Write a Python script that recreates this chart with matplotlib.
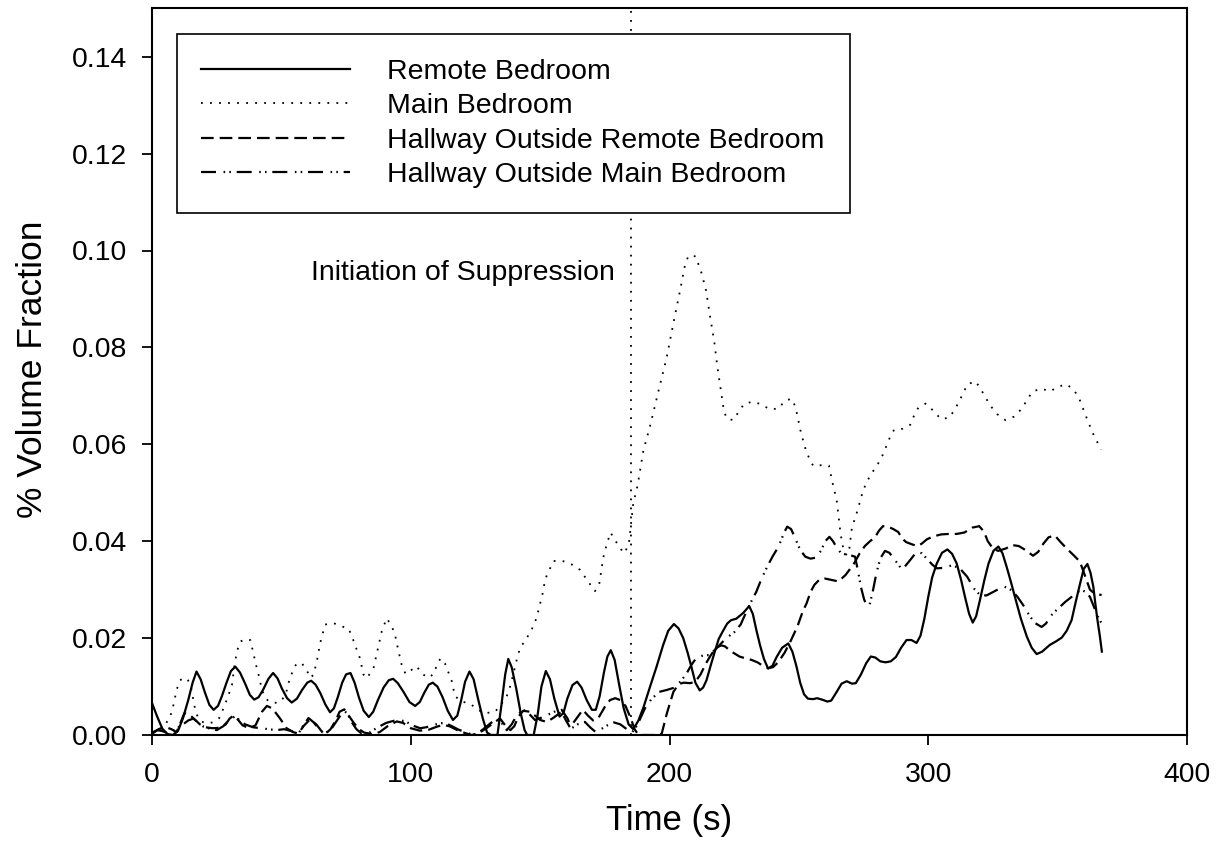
import numpy as np
import matplotlib
matplotlib.use("Agg")
import matplotlib.pyplot as plt

plt.rcParams['font.family'] = ['Liberation Sans', 'DejaVu Sans']

# ---------------- data (time s, % volume fraction) ----------------
remote_bedroom = [
    (0, .0066), (2, .0038), (4, .0013), (6, .0002), (8, .0), (10, .0008), (12, .0035), (14, .0072),
    (15.7, .0108), (17.2, .0131), (18.8, .0115), (20.5, .0087), (22.2, .0062), (23.8, .0052), (25.5, .0060),
    (27, .0080), (28.8, .0108), (30.5, .0132), (32.2, .0141), (34, .0129), (36, .0106), (37.8, .0083),
    (39.5, .0073), (41.2, .0078), (43, .0094), (45, .0116), (46.8, .0128), (48.5, .0117), (50.2, .0096),
    (52.2, .0076), (54, .0067), (56, .0075), (58, .0093), (60, .0108), (61.5, .0112), (63.2, .0104),
    (65, .0087), (67, .0063), (68.8, .0047), (70.3, .0055), (71.8, .0078), (73.5, .0108), (75, .0125),
    (76.7, .0128), (78.3, .0108), (80, .0077), (81.8, .0050), (83.8, .0037), (85.5, .0048), (87.3, .0072),
    (89.5, .0098), (91.5, .0113), (93.2, .0116), (95, .0107), (97.2, .0089), (99.5, .0068), (101.7, .0060),
    (103.5, .0068), (105.3, .0088), (107, .0104), (108.5, .0108), (110.3, .0100), (112.3, .0078),
    (114.3, .0050), (116.3, .0031), (118, .0040), (119.5, .0072), (121, .0110), (122.7, .0131),
    (124.3, .0115), (126, .0075), (127.8, .0035), (129.5, .0005), (131, .0), (133.5, .0), (135, .0060),
    (136.5, .0125), (137.7, .0157), (139, .0140), (140.8, .0095), (142.5, .0045), (144, .0010), (145, .0),
    (147.5, .0), (149, .0040), (150.5, .0100), (152.2, .0132), (153.8, .0115), (155.5, .0075),
    (157.5, .0038), (159, .0045), (160.5, .0075), (162.5, .0103), (164.3, .0110), (166, .0098),
    (168, .0072), (170, .0052), (171.5, .0052), (173, .0080), (174.7, .0130), (176, .0162), (177.3, .0175),
    (178.8, .0155), (180.5, .0105), (182.3, .0055), (184.2, .0022), (186, .0012), (188, .0030),
    (190, .0058), (192.5, .0100), (195, .0141), (197.5, .0185), (199.5, .0215), (201.7, .0229),
    (203.5, .0220), (205.3, .0200), (207, .0170), (208.5, .0140), (210, .0108), (211.7, .0092),
    (213, .0098), (214.3, .0113), (216, .0145), (217.5, .0172), (219, .0198), (220.7, .0215),
    (222.3, .0230), (223.8, .0237), (225.8, .0240), (228.5, .0252), (230.8, .0266), (232.2, .0250),
    (233.6, .0216), (235, .0185), (236.5, .0157), (238.1, .0137), (239.8, .0143), (241.4, .0161),
    (243.5, .0180), (245.9, .0189), (247.5, .0172), (249.1, .0141), (250.5, .0108), (252, .0084),
    (253.5, .0075), (255.5, .0074), (257, .0076), (259, .0073), (261, .0069), (262.5, .0071),
    (264.5, .0088), (266.5, .0106), (268.5, .0111), (270.5, .0106), (272, .0107), (274, .0125),
    (276, .0148), (277.8, .0162), (279.5, .0160), (281.5, .0152), (283.5, .0150), (285.5, .0152),
    (287.5, .0161), (289.5, .0180), (291.6, .0196), (293.5, .0196), (295.5, .0190), (297, .0205),
    (298.5, .0240), (300, .0285), (301.5, .0325), (303.3, .0354), (305.3, .0376), (307.4, .0383),
    (309.2, .0374), (311, .0354), (312.7, .0320), (314.2, .0285), (315.8, .0250), (317.2, .0232),
    (318.5, .0245), (320, .0279), (321.7, .0320), (323.3, .0354), (325.2, .0380), (327.1, .0389),
    (328.7, .0375), (330.3, .0347), (332, .0315), (333.5, .0285), (335.8, .0240), (338.1, .0203),
    (340, .0180), (341.9, .0167), (344, .0172), (347, .0186), (349.3, .0193), (351.6, .0201),
    (353.5, .0215), (355.4, .0237), (357, .0275), (358.7, .0313), (360.1, .0343), (361.5, .0353),
    (362.7, .0335), (363.8, .0306), (364.6, .0270), (365.4, .0237), (366.3, .0205), (367.1, .0172),
]

main_bedroom = [
    (0, .0005), (3, .0010), (5, .0021), (7, .0037), (8.3, .0062), (9.5, .0093), (10.8, .0113),
    (12.5, .0118), (13.8, .0115), (15.2, .0095), (16.4, .0060), (17.6, .0038), (19, .0028), (21, .0024),
    (23.5, .0026), (26, .0035), (28, .0060), (29.6, .0083), (30.9, .0103), (31.7, .0137), (32.8, .0172),
    (34.1, .0193), (36.4, .0198), (38, .0196), (39.3, .0166), (40.2, .0145), (41.2, .0124), (42.5, .0093),
    (43.8, .0076), (45.5, .0068), (48.7, .0066), (51.5, .0080), (52.8, .0108), (54.7, .0137), (56, .0148),
    (57.9, .0148), (59.8, .0134), (61.1, .0118), (62.4, .0124), (63.7, .0152), (65, .0190), (66.9, .0228),
    (70.1, .0231), (73.4, .0224), (75.9, .0220), (77.2, .0205), (78.5, .0185), (80.4, .0158),
    (81.7, .0125), (83, .0117), (85.6, .0138), (87.6, .0186), (88.8, .0214), (90.7, .0241), (92.7, .0224),
    (94, .0205), (95.3, .0172), (96.5, .0145), (98, .0126), (99.7, .0132), (102.3, .0142), (104.2, .0127),
    (106.8, .0118), (109.1, .0127), (110, .0144), (111.5, .0158), (113.2, .0148), (114.5, .0130),
    (115.8, .0112), (117.1, .0080), (119.7, .0069), (122.9, .0065), (125.9, .0052), (128.7, .0045),
    (132.6, .0048), (135.2, .0065), (137.1, .0080), (138.4, .0100), (139.7, .0127), (140.6, .0148),
    (142.2, .0179), (144.8, .0200), (146.7, .0217), (148.6, .0241), (149.9, .0269), (151.2, .0297),
    (151.9, .0321), (155.1, .0359), (158.3, .0360), (162.2, .0352), (165.4, .0341), (168, .0321),
    (171.2, .0297), (172.8, .0310), (174.4, .0366), (175.7, .0393), (177.2, .0418), (178.9, .0403),
    (180.8, .0386), (182.6, .0375), (184.3, .0395), (186, .0478), (187.7, .0516), (189.9, .0587),
    (192.5, .0638), (195.7, .0709), (198.9, .0779), (201.5, .0850), (204.1, .0918), (206, .0970),
    (207.3, .0989), (210.1, .0988), (212.4, .0953), (214.1, .0918), (215.7, .0863), (217.3, .0812),
    (218.5, .0760), (219.5, .0724), (221, .0670), (222.1, .0653), (224.6, .0650), (228.9, .0684),
    (232.4, .0688), (235.6, .0682), (238.8, .0672), (242.2, .0674), (244.6, .0690), (247.2, .0694),
    (248.7, .0677), (250.8, .0624), (252.7, .0588), (254, .0571), (255.6, .0555), (258.8, .0557),
    (261.6, .0556), (262.9, .0523), (264.6, .0485), (266.1, .0416), (267.3, .0380), (268.5, .0371),
    (269.5, .0385), (270.5, .0428), (272.3, .0457), (274.9, .0506), (276.6, .0526), (278.5, .0543),
    (280.6, .0560), (282.4, .0578), (283.7, .0595), (285, .0612), (286.8, .0630), (290, .0632),
    (293, .0640), (294.5, .0659), (296.2, .0676), (299, .0684), (302, .0669), (304.9, .0652),
    (308.1, .0655), (310.3, .0672), (312, .0689), (313.6, .0707), (315.2, .0724), (318.3, .0730),
    (320.4, .0713), (322.2, .0696), (324.1, .0679), (326.7, .0662), (329.8, .0650), (333.1, .0657),
    (336.1, .0673), (338, .0690), (340.3, .0709), (343.8, .0715), (347, .0709), (350.3, .0719),
    (353.5, .0724), (356.3, .0712), (358.3, .0695), (360.8, .0660), (363.5, .0624), (366.8, .0589),
]

hall_remote = [
    (0, .0002), (2.5, .0012), (5, .0017), (7.5, .0012), (9.5, .0006), (11, .0025), (12.5, .0045),
    (14.5, .0042), (16.7, .0031), (18.5, .0022), (20.5, .0016), (23.5, .0014), (26.4, .0015),
    (28.5, .0022), (30, .0034), (31.5, .0040), (33, .0033), (35, .0020), (37.5, .0014), (40, .0020),
    (42.5, .0048), (44.4, .0060), (46.5, .0055), (49.5, .0034), (52, .0014), (54.5, .0006), (56.6, .0003),
    (58.5, .0018), (61, .0032), (63.5, .0022), (65.5, .0008), (67, .0002), (69, .0012), (71, .0030),
    (72.5, .0048), (74.3, .0053), (76, .0040), (78, .0025), (80, .0012), (82, .0005), (85, .0002),
    (88, .0006), (91, .0018), (94.6, .0028), (97, .0025), (100, .0014), (103.5, .0009), (107, .0011),
    (110, .0017), (112.6, .0021), (115, .0018), (118, .0010), (121, .0004), (123.5, .0), (126, .0003),
    (129, .0013), (132, .0025), (134.5, .0034), (136.5, .0020), (138.5, .0010), (140, .0018),
    (141.6, .0038), (143.5, .0050), (146, .0048), (148.5, .0038), (150, .0031), (152.5, .0027),
    (155, .0035), (158.3, .0048), (160, .0030), (161.5, .0016), (163.5, .0030), (166.5, .0052),
    (168.5, .0040), (170.5, .0030), (172.5, .0035), (175, .0058), (177, .0072), (179, .0076),
    (181, .0072), (183, .0060), (185, .0035), (186.5, .0012), (188, .0), (196, .0), (197, .0003),
    (199, .0045), (201.5, .0089), (203.5, .0105), (205.5, .0108), (208, .0107), (210, .0110),
    (212, .0125), (214, .0147), (216, .0165), (218, .0180), (220, .0185), (221.4, .0183), (224, .0172),
    (227, .0162), (229.5, .0158), (231.7, .0155), (234, .0150), (236, .0143), (238.2, .0138),
    (240, .0140), (242, .0150), (244.5, .0170), (247, .0196), (249.5, .0225), (251.5, .0255),
    (253, .0272), (254.5, .0295), (256, .0310), (258, .0321), (260, .0323), (262.7, .0320),
    (265.3, .0317), (268, .0330), (271.1, .0352), (273.5, .0375), (275.5, .0390), (277.5, .0400),
    (279.4, .0408), (281, .0422), (282.5, .0431), (284.5, .0430), (286.5, .0425), (288.4, .0419),
    (290, .0405), (291.5, .0398), (294, .0393), (296, .0390), (297.5, .0395), (299.5, .0404),
    (302, .0410), (305, .0414), (308, .0415), (311, .0415), (314, .0418), (317, .0428), (319.7, .0431),
    (321.5, .0420), (323, .0400), (325, .0385), (327, .0380), (330, .0385), (332.5, .0392),
    (335, .0390), (337.5, .0382), (340.5, .0370), (342.5, .0378), (344.5, .0395), (346.5, .0408),
    (348.9, .0412), (351, .0399), (353.5, .0385), (356, .0372), (358.6, .0358), (360.5, .0330),
    (362.5, .0300), (364.5, .0291), (367, .0289),
]

hall_main = [
    (0, .0005), (2, .0010), (4, .0008), (6, .0004), (8, .0008), (10, .0015), (12, .0022), (14, .0030),
    (16, .0034), (18, .0025), (20, .0017), (22.5, .0013), (25, .0010), (27.5, .0018), (30, .0032),
    (32, .0038), (34, .0030), (36, .0022), (39, .0016), (42, .0014), (45, .0012), (48, .0010),
    (51, .0012), (54, .0008), (56.6, .0003), (58.5, .0020), (60.5, .0035), (62.5, .0026), (64.5, .0012),
    (66.5, .0003), (69, .0010), (71.5, .0030), (74, .0050), (75.5, .0045), (77, .0028), (79, .0012),
    (81, .0003), (84, .0005), (87, .0015), (90.5, .0025), (93.9, .0030), (97.8, .0029), (100.5, .0020),
    (103.6, .0014), (106, .0016), (108.5, .0020), (111, .0024), (113.2, .0025), (116, .0018),
    (118.5, .0011), (121, .0006), (124, .0), (126, .0004), (128, .0012), (131, .0025), (133.9, .0035),
    (135.5, .0022), (137.1, .0010), (139, .0022), (141, .0041), (143.5, .0052), (145.5, .0045),
    (148, .0031), (150.6, .0036), (153, .0042), (155.5, .0048), (158.3, .0052), (160.5, .0035),
    (162.2, .0014), (164.5, .0022), (167.3, .0027), (169.5, .0015), (171.5, .0006), (173.5, .0012),
    (176, .0020), (178.5, .0026), (181, .0022), (183.5, .0012), (185.5, .0005), (187.5, .0020),
    (190.5, .0055), (193, .0074), (196, .0089), (199, .0093), (202, .0098), (204.5, .0112),
    (206.6, .0127), (208.5, .0145), (210.5, .0160), (213, .0164), (215.5, .0165), (218, .0178),
    (220.5, .0192), (222.7, .0203), (225, .0212), (227.5, .0228), (230, .0258), (232, .0280),
    (233.5, .0295), (235, .0315), (236.5, .0333), (238, .0350), (240, .0370), (241.5, .0383),
    (243, .0400), (244.3, .0418), (245.5, .0430), (247, .0425), (248.5, .0407), (250.5, .0382),
    (252.5, .0368), (254.5, .0364), (256.5, .0366), (258.5, .0380), (260.2, .0400), (261.8, .0409),
    (263.2, .0400), (264.6, .0387), (266.2, .0376), (268.5, .0372), (270.5, .0370), (271.7, .0368),
    (272.8, .0340), (274, .0305), (275.2, .0280), (276.3, .0266), (277.5, .0272), (278.7, .0300),
    (280, .0335), (281.5, .0365), (283.3, .0380), (285, .0376), (287, .0362), (289.5, .0344),
    (291, .0348), (293, .0361), (295.5, .0378), (297.5, .0375), (299.4, .0364), (301.5, .0352),
    (303.3, .0344), (306, .0345), (309, .0350), (312, .0345), (315, .0327), (318, .0300), (320, .0289),
    (322.5, .0288), (325, .0295), (327.5, .0302), (329.5, .0306), (332.2, .0299), (334.5, .0285),
    (336.7, .0268), (338.6, .0251), (341, .0232), (343.8, .0223), (345.5, .0230), (347, .0244),
    (349, .0255), (351, .0265), (353, .0275), (355.4, .0285), (357.5, .0295), (359.3, .0299),
    (361, .0295), (362.5, .0285), (364, .0265), (365.5, .0245), (367, .0230),
]

series_labels = ["Remote Bedroom", "Main Bedroom",
                 "Hallway Outside Remote Bedroom", "Hallway Outside Main Bedroom"]
suppression_time = 185.0
annotation_text = "Initiation of Suppression"
x_ticks = [0, 100, 200, 300, 400]
y_ticks = [0.00, 0.02, 0.04, 0.06, 0.08, 0.10, 0.12, 0.14]

# ---------------- figure ----------------
W, H = 1222, 857
fig = plt.figure(figsize=(W / 100, H / 100), dpi=100)
ax = fig.add_axes([152 / W, 1 - 735 / H, (1187 - 152) / W, (735 - 8.25) / H])

styles = [
    dict(linestyle='-', linewidth=1.6),
    dict(linestyle=(0, (1, 4)), linewidth=1.3),
    dict(linestyle=(0, (5.7, 2.7)), linewidth=1.6),
    dict(linestyle=(0, (6.75, 3.4, 0.7, 1.9, 0.7, 2.6)), linewidth=1.6),
]
for data, lab, st in zip([remote_bedroom, main_bedroom, hall_remote, hall_main], series_labels, styles):
    arr = np.array(data)
    ax.plot(arr[:, 0], arr[:, 1], color='black', label=lab, **st)

ax.axvline(suppression_time, color='black', linestyle=(0, (1, 4)), linewidth=1.3)
ax.text(179, 0.0939, annotation_text, ha='right', va='baseline', fontsize=20.5)

ax.set_xlim(0, 400)
ax.set_ylim(0, 0.15)
ax.set_xticks(x_ticks)
ax.set_xticklabels([f"{v:d}" for v in x_ticks])
ax.set_yticks(y_ticks)
ax.set_yticklabels([f"{v:.2f}" for v in y_ticks])
ax.tick_params(axis='both', direction='out', length=7.2, width=1.3, labelsize=20.4, top=False, right=False)
ax.tick_params(axis='x', pad=12.3)
ax.tick_params(axis='y', pad=10.5)
for sp in ax.spines.values():
    sp.set_linewidth(1.5)

ax.set_xlabel('Time (s)', fontsize=25)
ax.xaxis.set_label_coords(0.5, -0.117)
ax.xaxis.label.set_va('center')
ax.set_ylabel('% Volume Fraction', fontsize=25.5)
ax.yaxis.set_label_coords(-0.1155, 0.503)
ax.yaxis.label.set_va('center')

leg = ax.legend(loc='upper left', bbox_to_anchor=(176.7 / W, 1 - 34 / H), bbox_transform=fig.transFigure,
                borderaxespad=0, fontsize=20.5, frameon=True, fancybox=False, edgecolor='black',
                framealpha=1, handlelength=5.2, handletextpad=1.33, borderpad=0.87, labelspacing=0.3)
leg.get_frame().set_linewidth(1.2)

fig.savefig('out.png', dpi=100)
